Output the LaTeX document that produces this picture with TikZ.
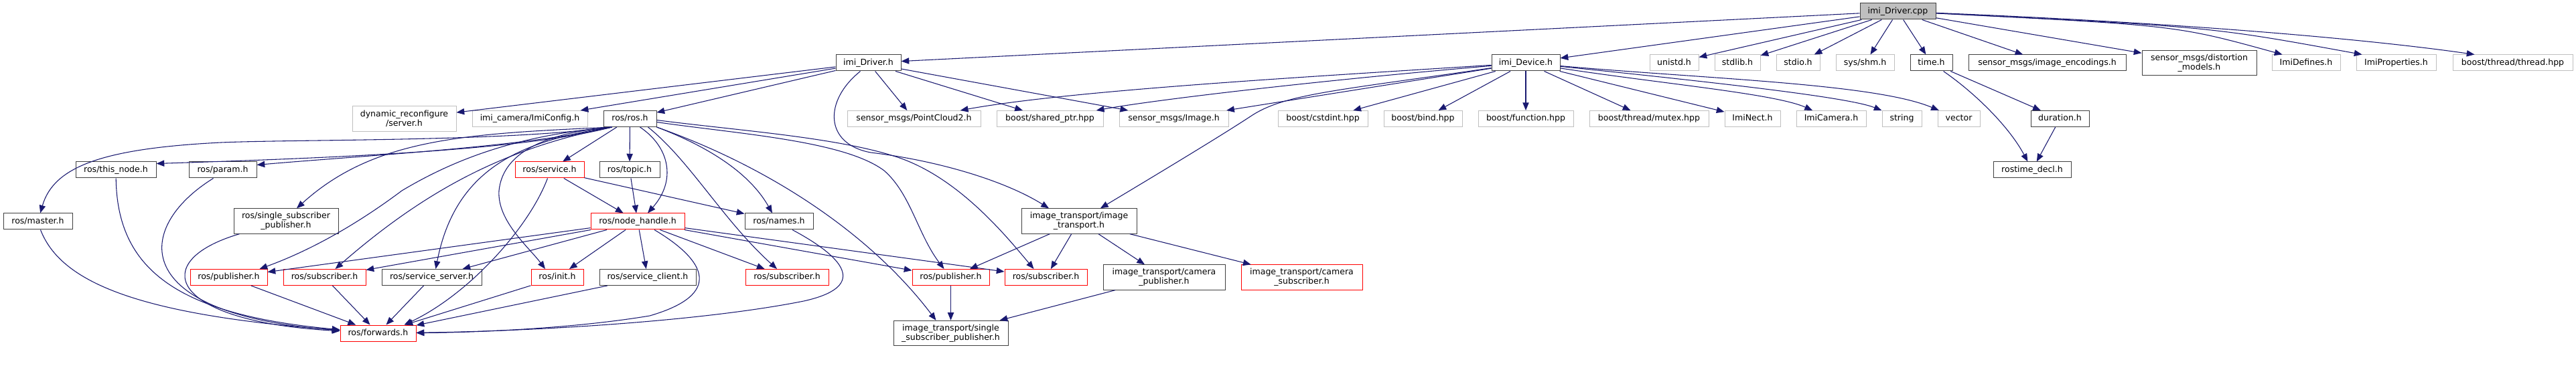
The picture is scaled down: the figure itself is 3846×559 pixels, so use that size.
\documentclass[tikz,border=0pt]{standalone}
\usepackage{fontspec}
\setmainfont{DejaVu Sans}
\usetikzlibrary{arrows.meta,calc}
\definecolor{edgec}{HTML}{191970}
\definecolor{docc}{HTML}{404040}
\definecolor{extc}{HTML}{BFBFBF}
\definecolor{redc}{HTML}{FF0000}
\definecolor{rootf}{HTML}{BFBFBF}
\tikzset{
  boxbase/.style={draw, line width=0.75pt, inner sep=0pt, align=center,
    font=\fontsize{9.4}{10.2}\selectfont, fill=white},
  one/.style={boxbase, minimum height=18pt, text height=7pt, text depth=2.2pt},
  two/.style={boxbase, minimum height=28pt},
  boxw/.style={minimum width=#1*0.75pt},
  doc/.style={one, draw=docc},
  ext/.style={one, draw=extc},
  trunc/.style={one, draw=redc},
  root/.style={one, draw=docc, fill=rootf},
  docII/.style={two, draw=docc},
  extII/.style={two, draw=extc},
  truncII/.style={two, draw=redc},
  edge/.style={draw=edgec, line width=0.8pt, -{Triangle[length=8.8pt,width=7pt]}}
}
\begin{document}
\begin{tikzpicture}[x=0.75pt,y=-0.75pt]
\useasboundingbox (0,0) rectangle (3846,559);
% row 0
\node[root, boxw=113] (cpp) at (2833.5,17) {imi\_Driver.cpp};
% row 1
\node[doc, boxw=97] (drvh) at (1296.5,94) {imi\_Driver.h};
\node[doc, boxw=102] (devh) at (2278,94) {imi\_Device.h};
\node[ext, boxw=73] (unistd) at (2499.5,94) {unistd.h};
\node[ext, boxw=68] (stdlib) at (2594,94) {stdlib.h};
\node[ext, boxw=65] (stdio) at (2684.5,94) {stdio.h};
\node[ext, boxw=87] (shm) at (2784.5,94) {sys/shm.h};
\node[doc, boxw=63] (timeh) at (2883.5,94) {time.h};
\node[doc, boxw=235] (enc) at (3056.5,94) {sensor\_msgs/image\_encodings.h};
\node[docII, boxw=171] (dist) at (3283.5,94) {sensor\_msgs/distortion\\\_models.h};
\node[ext, boxw=102] (imidef) at (3443,94) {ImiDefines.h};
\node[ext, boxw=119] (imiprop) at (3577.5,94) {ImiProperties.h};
\node[ext, boxw=179] (thread) at (3751.5,94) {boost/thread/thread.hpp};
% row 2
\node[extII, boxw=155] (dyn) at (603.5,177.5) {dynamic\_reconfigure\\/server.h};
\node[ext, boxw=172] (imicfg) at (791,177.5) {imi\_camera/ImiConfig.h};
\node[doc, boxw=79] (rosh) at (940.5,177.5) {ros/ros.h};
\node[ext, boxw=199] (pc2) at (1364.5,177.5) {sensor\_msgs/PointCloud2.h};
\node[ext, boxw=159] (shptr) at (1567.5,177.5) {boost/shared\_ptr.hpp};
\node[ext, boxw=163] (img) at (1752.5,177.5) {sensor\_msgs/Image.h};
\node[ext, boxw=134] (cstdint) at (1975,177.5) {boost/cstdint.hpp};
\node[ext, boxw=117] (bind) at (2124.5,177.5) {boost/bind.hpp};
\node[ext, boxw=142] (func) at (2278,177.5) {boost/function.hpp};
\node[ext, boxw=178] (mutex) at (2462,177.5) {boost/thread/mutex.hpp};
\node[ext, boxw=83] (nect) at (2616.5,177.5) {ImiNect.h};
\node[ext, boxw=104] (cam) at (2734,177.5) {ImiCamera.h};
\node[ext, boxw=59] (str) at (2839.5,177.5) {string};
\node[ext, boxw=63] (vec) at (2924.5,177.5) {vector};
\node[doc, boxw=87] (dur) at (3075.5,177.5) {duration.h};
% row 3
\node[doc, boxw=120] (thisnode) at (173,254) {ros/this\_node.h};
\node[doc, boxw=101] (param) at (332.5,254) {ros/param.h};
\node[trunc, boxw=103] (service) at (820.5,254) {ros/service.h};
\node[doc, boxw=90] (topic) at (940,254) {ros/topic.h};
\node[doc, boxw=116] (rtd) at (3034,254) {rostime\_decl.h};
% row 4
\node[doc, boxw=103] (master) at (56.5,331) {ros/master.h};
\node[docII, boxw=156] (sspros) at (427,330.5) {ros/single\_subscriber\\\_publisher.h};
\node[trunc, boxw=140] (nh) at (952,331) {ros/node\_handle.h};
\node[doc, boxw=102] (names) at (1163,331) {ros/names.h};
\node[docII, boxw=172] (itr) at (1611,330.5) {image\_transport/image\\\_transport.h};
% row 5
\node[trunc, boxw=115] (pubL) at (341.5,414.5) {ros/publisher.h};
\node[trunc, boxw=123] (subL) at (484.5,414.5) {ros/subscriber.h};
\node[doc, boxw=149] (srvsrv) at (644.5,414.5) {ros/service\_server.h};
\node[trunc, boxw=78] (init) at (832,414.5) {ros/init.h};
\node[doc, boxw=144] (srvcli) at (967,414.5) {ros/service\_client.h};
\node[trunc, boxw=124] (subM) at (1175,414.5) {ros/subscriber.h};
\node[trunc, boxw=115] (pubR) at (1419.5,414.5) {ros/publisher.h};
\node[trunc, boxw=123] (subR) at (1561.5,414.5) {ros/subscriber.h};
\node[docII, boxw=182] (campub) at (1738,414.5) {image\_transport/camera\\\_publisher.h};
\node[truncII, boxw=181] (camsub) at (1943.5,414.5) {image\_transport/camera\\\_subscriber.h};
% row 6
\node[trunc, boxw=113] (fwd) at (564.5,498) {ros/forwards.h};
\node[docII, boxw=171] (itssp) at (1419.5,498) {image\_transport/single\\\_subscriber\_publisher.h};

% ---- edges from imi_Driver.cpp
\draw[edge] (cpp) -- (drvh);
\draw[edge] (cpp) -- (devh);
\draw[edge] (cpp) -- (unistd);
\draw[edge] (cpp) -- (stdlib);
\draw[edge] (cpp) -- (stdio);
\draw[edge] (cpp) -- (shm);
\draw[edge] (cpp) -- (timeh);
\draw[edge] (cpp) -- (enc);
\draw[edge] (cpp) -- (dist);
\draw[edge] (cpp) .. controls (3250,38) .. ($(imidef.north west)+(16,0)$);
\draw[edge] (cpp) .. controls (3300,40) .. ($(imiprop.north west)+(9,0)$);
\draw[edge] (cpp) .. controls (3300,36) and (3560,62) .. ($(thread.north west)+(33,0)$);
% ---- edges from imi_Driver.h
\draw[edge] (drvh) -- (dyn);
\draw[edge] (drvh) -- (imicfg);
\draw[edge] (drvh) -- (rosh);
\draw[edge] (drvh) -- (pc2);
\draw[edge] (drvh) -- (shptr);
\draw[edge] (drvh) -- (img);
\draw[edge] ($(drvh.south)+(-12,0)$) .. controls (1230,150) and (1230,215) .. (1300,228)
   .. controls (1400,240) and (1500,270) .. ($(itr.north)+(-45,0)$);
% ---- edges from imi_Device.h
\draw[edge] (devh) .. controls (1950,115) and (1600,135) .. (pc2);
\draw[edge] (devh) .. controls (1950,122) and (1720,150) .. (shptr);
\draw[edge] (devh) -- (img);
\draw[edge] (devh) .. controls (2000,135) and (1920,140) .. (1870,172)
   .. controls (1820,205) and (1720,265) .. (itr);
\draw[edge] (devh) -- (cstdint);
\draw[edge] (devh) -- (bind);
\draw[edge] (devh) -- (func);
\draw[edge] (devh) -- (mutex);
\draw[edge] (devh) -- (nect);
\draw[edge] (devh) .. controls (2480,125) and (2650,140) .. (cam);
\draw[edge] (devh) .. controls (2550,122) and (2760,145) .. (str);
\draw[edge] (devh) .. controls (2550,118) and (2800,125) .. (vec);
% ---- time
\draw[edge] (timeh) -- (dur);
\draw[edge] (timeh) .. controls (2950,140) and (3000,190) .. (rtd);
\draw[edge] (dur) -- (rtd);
% ---- ros/ros.h
\draw[edge] ($(rosh.south)+(-27,0)$) .. controls (750,212) and (450,208) .. (330,213)
   .. controls (150,222) and (80,250) .. (master);
\draw[edge] ($(rosh.south)+(-27,0)$) .. controls (780,225) and (500,236) .. ($(thisnode.north east)+(0,3)$);
\draw[edge] ($(rosh.south)+(-27,0)$) .. controls (780,220) and (550,232) .. ($(param.north east)+(0,5)$);
\draw[edge] ($(rosh.south)+(-27,0)$) .. controls (700,200) and (560,205) .. ($(sspros.north)+(16,0)$);
\draw[edge] ($(rosh.south)+(-27,0)$) .. controls (800,200) and (700,225) .. (600,285)
   .. controls (540,330) and (470,372) .. ($(pubL.north east)+(-12,0)$);
\draw[edge] ($(rosh.south)+(-27,0)$) .. controls (760,220) and (640,280) .. ($(subL.north)+(16,0)$);
\draw[edge] ($(rosh.south)+(-27,0)$) .. controls (780,210) and (680,250) .. ($(srvsrv.north)+(6,0)$);
\draw[edge] ($(rosh.south)+(-27,0)$) .. controls (800,200) and (750,235) .. (745,285)
   .. controls (742,330) and (790,370) .. ($(init.north)+(-18,0)$);
\draw[edge] (rosh) -- (service);
\draw[edge] (rosh) -- (topic);
\draw[edge] ($(rosh.south)+(15,0)$) .. controls (1000,220) and (1010,270) .. ($(nh.north)+(15,0)$);
\draw[edge] (rosh.south east) .. controls (1060,220) and (1120,260) .. ($(names.north)+(-10,0)$);
\draw[edge] ($(rosh.south east)+(-13,0)$) .. controls (1030,240) and (1080,330) .. ($(subM.north)+(-15,0)$);
\draw[edge] (rosh.south east) .. controls (1150,250) and (1300,350) .. ($(itssp.north)+(-22,0)$);
\draw[edge] ($(rosh.east)+(0,2)$) .. controls (1100,195) and (1250,205) .. (1340,235)
   .. controls (1430,265) and (1500,350) .. ($(subR.north)+(-18,0)$);
\draw[edge] ($(rosh.east)+(0,5)$) .. controls (1100,200) and (1260,210) .. (1320,255)
   .. controls (1360,290) and (1370,350) .. ($(pubR.north)+(-10,0)$);
% ---- service, topic
\draw[edge] (service) -- (nh);
\draw[edge] ($(service.south)+(-3,0)$) .. controls (790,340) and (700,440) .. ($(fwd.north east)+(-18,0)$);
\draw[edge] (service) -- (names);
\draw[edge] (topic) -- (nh);
% ---- node_handle
\draw[edge] (nh) -- (pubL);
\draw[edge] (nh) -- (subL);
\draw[edge] (nh) -- (srvsrv);
\draw[edge] (nh) -- (init);
\draw[edge] (nh) -- (srvcli);
\draw[edge] ($(nh.south)+(25,0)$) .. controls (1055,390) and (1080,440) .. (970,472)
   .. controls (850,492) and (700,497) .. (fwd);
\draw[edge] (nh) -- (subM);
\draw[edge] (nh) -- (subR);
\draw[edge] (nh) -- (pubR);
% ---- into forwards.h
\draw[edge] (pubL) -- (fwd);
\draw[edge] (subL) -- (fwd);
\draw[edge] (srvsrv) -- (fwd);
\draw[edge] (init) -- (fwd);
\draw[edge] (srvcli) -- (fwd);
\draw[edge] ($(names.south)+(20,0)$) .. controls (1270,390) and (1290,430) .. (1200,450)
   .. controls (1050,480) and (800,495) .. (fwd);
\draw[edge] (thisnode) .. controls (175,400) and (260,470) .. (fwd);
\draw[edge] ($(param.south)+(-14,0)$) .. controls (200,340) and (190,470) .. (fwd);
\draw[edge] ($(master.south)+(4,0)$) .. controls (90,420) and (200,470) .. (fwd);
\draw[edge] ($(sspros.south west)+(9,0)$) .. controls (220,390) and (250,480) .. (fwd);
% ---- image_transport
\draw[edge] (itr) -- (pubR);
\draw[edge] (itr) -- (subR);
\draw[edge] (itr) -- (campub);
\draw[edge] (itr) -- (camsub);
\draw[edge] (pubR) -- (itssp);
\draw[edge] (campub) -- (itssp);
\end{tikzpicture}
\end{document}
